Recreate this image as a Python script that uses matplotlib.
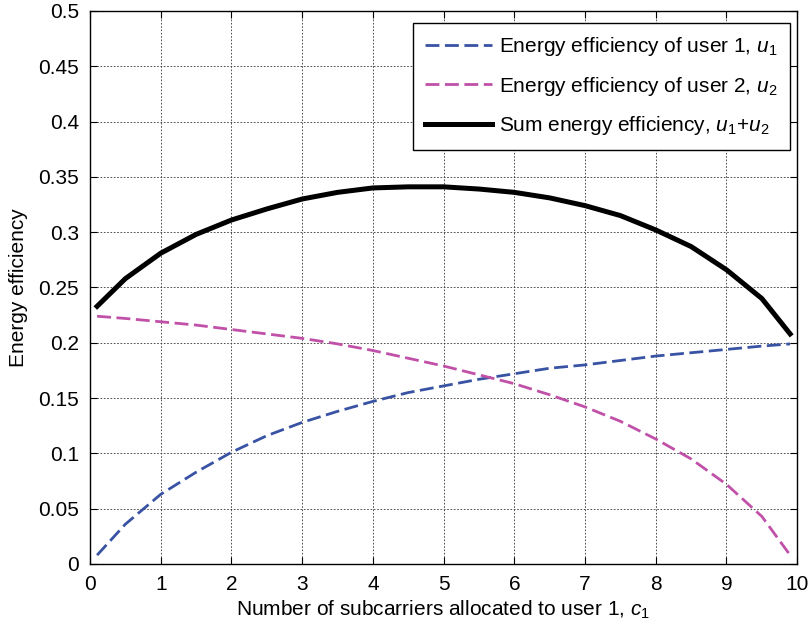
import numpy as np
import matplotlib.pyplot as plt

plt.rcParams['font.family'] = ['Liberation Sans', 'DejaVu Sans']
plt.rcParams['mathtext.fontset'] = 'custom'
plt.rcParams['mathtext.it'] = 'Liberation Sans:italic'
plt.rcParams['mathtext.rm'] = 'Liberation Sans'

# Datos
c1 = [0.1, 0.5, 1, 1.5, 2, 2.5, 3, 3.5, 4, 4.5, 5, 5.5, 6, 6.5, 7, 7.5, 8, 8.5, 9, 9.5, 9.9]
u1 = [0.008, 0.036, 0.063, 0.083, 0.101, 0.116, 0.128, 0.138, 0.147, 0.155, 0.161,
      0.167, 0.172, 0.177, 0.180, 0.184, 0.188, 0.191, 0.194, 0.197, 0.199]
u2 = [0.224, 0.222, 0.219, 0.216, 0.212, 0.208, 0.204, 0.199, 0.193, 0.186, 0.179,
      0.171, 0.163, 0.153, 0.142, 0.129, 0.113, 0.095, 0.072, 0.043, 0.008]
u_sum = [0.233, 0.258, 0.281, 0.298, 0.311, 0.321, 0.330, 0.336, 0.340, 0.341, 0.341,
         0.339, 0.336, 0.331, 0.324, 0.315, 0.302, 0.287, 0.266, 0.240, 0.208]

x_ticks = np.arange(0, 11, 1)
y_ticks = [0, 0.05, 0.1, 0.15, 0.2, 0.25, 0.3, 0.35, 0.4, 0.45, 0.5]
y_labels = ['0', '0.05', '0.1', '0.15', '0.2', '0.25', '0.3', '0.35', '0.4', '0.45', '0.5']

fig = plt.figure(figsize=(8.11, 6.27), dpi=100)
ax = fig.add_axes([0.111, 0.1005, 0.872, 0.882])

ax.plot(c1, u1, color='#3953a4', lw=2.0, dashes=(5, 2),
        label=r'Energy efficiency of user 1, $u_1$')
ax.plot(c1, u2, color='#c050a8', lw=2.0, dashes=(5, 2),
        label=r'Energy efficiency of user 2, $u_2$')
ax.plot(c1, u_sum, color='black', lw=3.6,
        label=r'Sum energy efficiency, $u_1$+$u_2$')

ax.set_xlim(0, 10)
ax.set_ylim(0, 0.5)
ax.set_xticks(x_ticks)
ax.set_yticks(y_ticks)
ax.set_yticklabels(y_labels)
ax.tick_params(direction='in', top=True, right=True, labelsize=15, length=5, pad=8)
ax.grid(True, color='#333333', linestyle=(0, (2, 2)), linewidth=0.6)

ax.set_xlabel(r'Number of subcarriers allocated to user 1, $c_1$', fontsize=15, labelpad=3)
ax.set_ylabel('Energy efficiency', fontsize=15, labelpad=7)

leg = ax.legend(loc='upper right', fontsize=15, fancybox=False, framealpha=1,
                edgecolor='black', handlelength=3.2, handletextpad=0.35,
                borderpad=0.6, labelspacing=0.8, borderaxespad=0,
                bbox_to_anchor=(0.990, 0.979))
leg.get_frame().set_linewidth(1.0)

for s in ax.spines.values():
    s.set_linewidth(1.0)

fig.savefig('out.png', dpi=100)
